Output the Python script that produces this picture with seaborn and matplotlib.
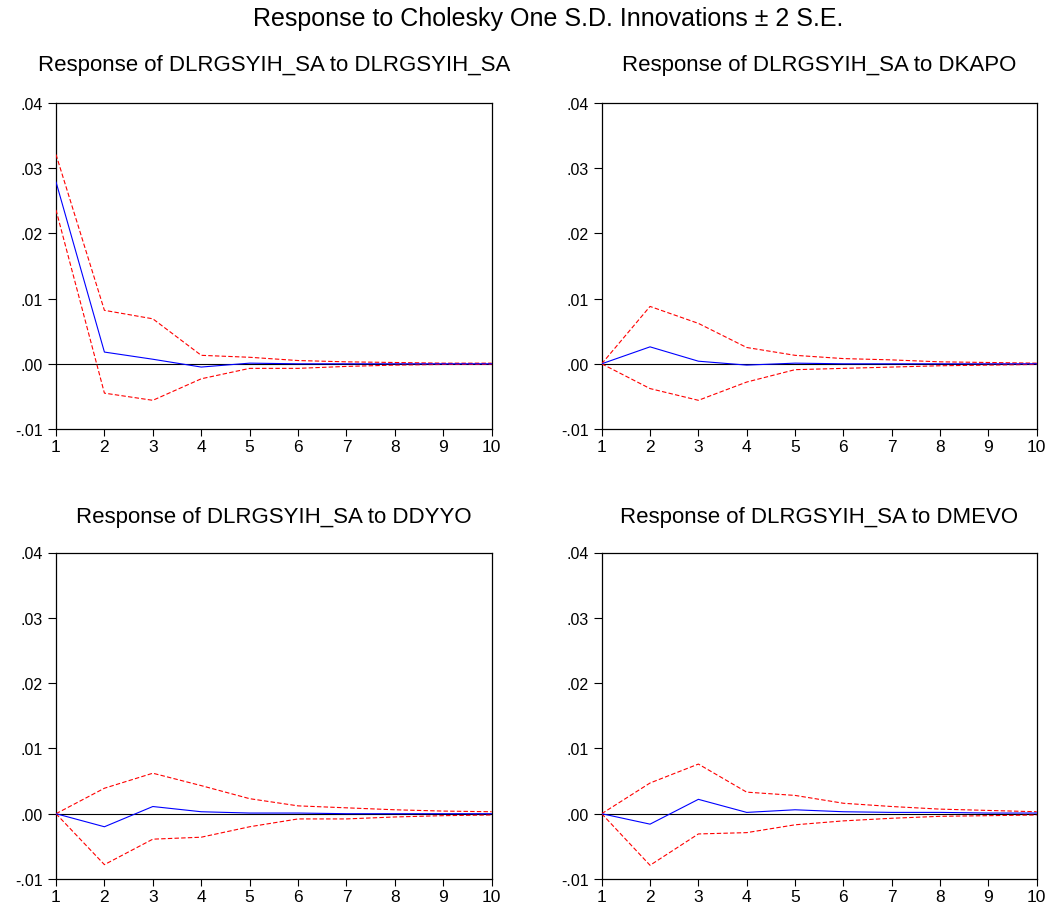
import numpy as np
import pandas as pd
import matplotlib
matplotlib.use("Agg")
import matplotlib.pyplot as plt
import seaborn as sns

periods = list(range(1, 11))

titles = [
    "Response of DLRGSYIH_SA to DLRGSYIH_SA",
    "Response of DLRGSYIH_SA to DKAPO",
    "Response of DLRGSYIH_SA to DDYYO",
    "Response of DLRGSYIH_SA to DMEVO",
]

resp_gsyih = [0.0279, 0.0018, 0.0007, -0.0005, 0.0001, 0.0000, 0.0000, 0.0000, 0.0000, 0.0000]
upper_gsyih = [0.0321, 0.0082, 0.0069, 0.0013, 0.0010, 0.0005, 0.0003, 0.0002, 0.0001, 0.0001]
lower_gsyih = [0.0236, -0.0045, -0.0056, -0.0023, -0.0007, -0.0007, -0.0004, -0.0002, -0.0001, -0.0001]

resp_kapo = [0.0, 0.0026, 0.0004, -0.0002, 0.0001, 0.0000, 0.0000, 0.0000, 0.0000, 0.0000]
upper_kapo = [0.0, 0.0088, 0.0062, 0.0025, 0.0013, 0.0008, 0.0006, 0.0003, 0.0002, 0.0001]
lower_kapo = [0.0, -0.0038, -0.0056, -0.0028, -0.0009, -0.0007, -0.0005, -0.0003, -0.0002, -0.0001]

resp_dyyo = [0.0, -0.0020, 0.0011, 0.0003, 0.0001, 0.0001, 0.0000, 0.0000, 0.0000, 0.0000]
upper_dyyo = [0.0, 0.0039, 0.0062, 0.0043, 0.0023, 0.0012, 0.0009, 0.0006, 0.0004, 0.0003]
lower_dyyo = [0.0, -0.0078, -0.0039, -0.0036, -0.0020, -0.0008, -0.0008, -0.0005, -0.0003, -0.0002]

resp_mevo = [0.0, -0.0016, 0.0022, 0.0002, 0.0006, 0.0003, 0.0002, 0.0002, 0.0001, 0.0001]
upper_mevo = [0.0, 0.0047, 0.0076, 0.0033, 0.0028, 0.0016, 0.0011, 0.0007, 0.0005, 0.0003]
lower_mevo = [0.0, -0.0079, -0.0031, -0.0029, -0.0017, -0.0011, -0.0007, -0.0004, -0.0003, -0.0002]

y_ticks = [-0.01, 0.00, 0.01, 0.02, 0.03, 0.04]
y_tick_labels = ["-.01", ".00", ".01", ".02", ".03", ".04"]

panels = [
    (resp_gsyih, upper_gsyih, lower_gsyih),
    (resp_kapo, upper_kapo, lower_kapo),
    (resp_dyyo, upper_dyyo, lower_dyyo),
    (resp_mevo, upper_mevo, lower_mevo),
]

sns.set_theme(style="white")
plt.rcParams["font.family"] = ["Liberation Sans", "DejaVu Sans"]

fig = plt.figure(figsize=(10.56, 9.12), dpi=100)
fig.patch.set_facecolor("white")

W, H = 1056.0, 912.0
boxes = [
    (56, 104, 491.7, 430),
    (601.7, 104, 1036.7, 430),
    (56, 553.5, 491.7, 880),
    (601.7, 553.5, 1036.7, 880),
]
title_y = [66, 66, 517, 517]

for (resp, up, lo), title, (x0, y0, x1, y1), ty in zip(panels, titles, boxes, title_y):
    ax = fig.add_axes([x0 / W, 1 - y1 / H, (x1 - x0) / W, (y1 - y0) / H])
    df = pd.DataFrame({"period": periods, "resp": resp, "upper": up, "lower": lo})
    ax.axhline(0, color="black", lw=0.8, zorder=1)
    sns.lineplot(data=df, x="period", y="upper", ax=ax, color="#ff0000", lw=0.8,
                 linestyle=(0, (4, 2)), zorder=3)
    sns.lineplot(data=df, x="period", y="lower", ax=ax, color="#ff0000", lw=0.8,
                 linestyle=(0, (4, 2)), zorder=3)
    sns.lineplot(data=df, x="period", y="resp", ax=ax, color="#0000ff", lw=0.8, zorder=4)
    ax.set_xlim(1, 10)
    ax.set_ylim(-0.01, 0.04)
    ax.set_xticks(periods)
    ax.set_xticklabels([str(p) for p in periods])
    ax.set_yticks(y_ticks)
    ax.set_yticklabels(y_tick_labels)
    ax.set_xlabel("")
    ax.set_ylabel("")
    for s in ax.spines.values():
        s.set_color("black")
        s.set_linewidth(0.9)
        s.set_visible(True)
    ax.tick_params(axis="both", direction="out", width=0.8, color="black",
                   labelcolor="black", bottom=True, left=True, top=False, right=False)
    ax.tick_params(axis="x", length=5, labelsize=12.5, pad=2.5)
    ax.tick_params(axis="y", length=5.8, labelsize=11.5, pad=3.5)
    ax.set_facecolor("white")
    fig.text((x0 + x1) / 2 / W, 1 - ty / H, title, ha="center", va="center",
             fontsize=16, color="black")

fig.text(548 / W, 1 - 19 / H, "Response to Cholesky One S.D. Innovations \u00b1 2 S.E.",
         ha="center", va="center", fontsize=18, color="black")

fig.savefig("out.png", dpi=100, facecolor="white")
